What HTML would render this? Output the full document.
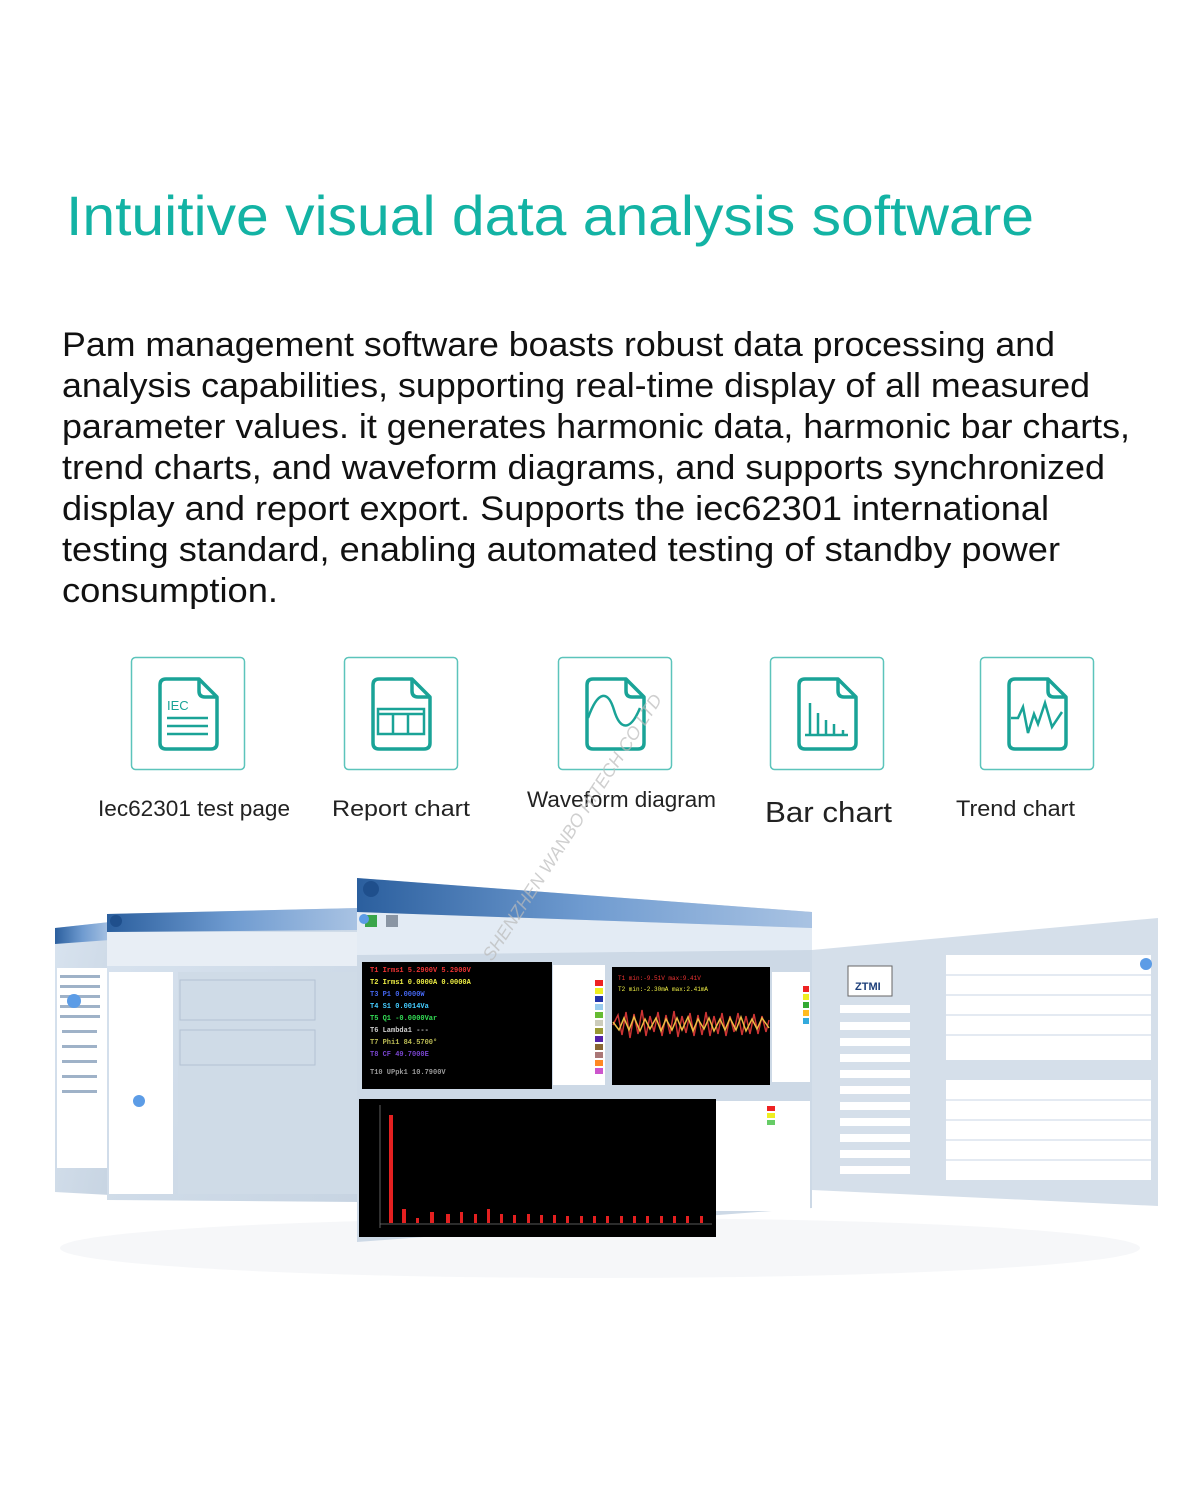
<!DOCTYPE html>
<html><head><meta charset="utf-8"><style>
html,body{margin:0;padding:0;background:#fff;}
svg{display:block;}
</style></head><body>
<svg width="1200" height="1492" viewBox="0 0 1200 1492" xmlns="http://www.w3.org/2000/svg" font-family="'Liberation Sans','Noto Sans CJK SC',sans-serif">
<defs>
<linearGradient id="pan" x1="0" y1="0" x2="1" y2="1"><stop offset="0" stop-color="#d8e3ef"/><stop offset="1" stop-color="#c7d4e2"/></linearGradient>
<linearGradient id="tb" x1="0" y1="0" x2="1" y2="0"><stop offset="0" stop-color="#2b5f9e"/><stop offset="0.5" stop-color="#6f9bd0"/><stop offset="1" stop-color="#a9c3e3"/></linearGradient>
<g id="doc">
<path d="M35 22 H68 L86 40 V86 Q86 92 80 92 H35 Q29 92 29 86 V28 Q29 22 35 22 Z" fill="none" stroke="#1aa397" stroke-width="3.5" stroke-linejoin="round"/>
<path d="M68 22 V34 Q68 40 74 40 H86" fill="none" stroke="#1aa397" stroke-width="3.5"/>
</g>
</defs>

<text x="66" y="235" font-size="56" fill="#13b3a4" textLength="968" lengthAdjust="spacingAndGlyphs">Intuitive visual data analysis software</text>

<g font-size="34" fill="#111">
<text x="62" y="356" textLength="993" lengthAdjust="spacingAndGlyphs">Pam management software boasts robust data processing and</text>
<text x="62" y="397" textLength="1028" lengthAdjust="spacingAndGlyphs">analysis capabilities, supporting real-time display of all measured</text>
<text x="62" y="438" textLength="1068" lengthAdjust="spacingAndGlyphs">parameter values. it generates harmonic data, harmonic bar charts,</text>
<text x="62" y="479" textLength="1043" lengthAdjust="spacingAndGlyphs">trend charts, and waveform diagrams, and supports synchronized</text>
<text x="62" y="520" textLength="987" lengthAdjust="spacingAndGlyphs">display and report export. Supports the iec62301 international</text>
<text x="62" y="561" textLength="998" lengthAdjust="spacingAndGlyphs">testing standard, enabling automated testing of standby power</text>
<text x="62" y="602" textLength="216" lengthAdjust="spacingAndGlyphs">consumption.</text>
</g>

<g fill="none" stroke="#5cc4bb" stroke-width="1.5">
<rect x="131.5" y="657.5" width="113" height="112" rx="4"/>
<rect x="344.5" y="657.5" width="113" height="112" rx="4"/>
<rect x="558.5" y="657.5" width="113" height="112" rx="4"/>
<rect x="770.5" y="657.5" width="113" height="112" rx="4"/>
<rect x="980.5" y="657.5" width="113" height="112" rx="4"/>
</g>
<use href="#doc" x="131" y="657"/>
<use href="#doc" x="344" y="657"/>
<use href="#doc" x="558" y="657"/>
<use href="#doc" x="770" y="657"/>
<use href="#doc" x="980" y="657"/>
<g stroke="#1aa397" stroke-width="2.5" fill="none">
<line x1="167" y1="718" x2="208" y2="718"/><line x1="167" y1="726" x2="208" y2="726"/><line x1="167" y1="734" x2="208" y2="734"/>
<rect x="378" y="709" width="46" height="25"/><line x1="378" y1="714" x2="424" y2="714"/><line x1="393" y1="714" x2="393" y2="734"/><line x1="408" y1="714" x2="408" y2="734"/>
<path d="M588 718 C598 690 608 690 614 710 C620 730 630 732 640 708"/>
<line x1="805" y1="735" x2="848" y2="735"/><line x1="810" y1="703" x2="810" y2="735"/><line x1="818" y1="713" x2="818" y2="735"/><line x1="826" y1="720" x2="826" y2="735"/><line x1="834" y1="724" x2="834" y2="735"/><line x1="843" y1="730" x2="843" y2="735"/>
<path d="M1011 718 H1018 L1023 707 L1028 733 L1034 714 L1038 724 L1045 703 L1052 727 L1062 712"/>
</g>
<text x="167" y="710" font-size="13" fill="#1aa397">IEC</text>
<g font-size="22" fill="#222">
<text x="98" y="816" textLength="192" lengthAdjust="spacingAndGlyphs">Iec62301 test page</text>
<text x="332" y="816" textLength="138" lengthAdjust="spacingAndGlyphs">Report chart</text>
<text x="527" y="807" textLength="189" lengthAdjust="spacingAndGlyphs">Waveform diagram</text>
<text x="956" y="816" textLength="119" lengthAdjust="spacingAndGlyphs">Trend chart</text>
</g>
<text x="765" y="822" font-size="29" fill="#222" textLength="127" lengthAdjust="spacingAndGlyphs">Bar chart</text>

<ellipse cx="600" cy="1248" rx="540" ry="30" fill="#f6f7f9"/>
<polygon points="55,928 110,922 110,1195 55,1192" fill="url(#pan)"/>
<polygon points="55,928 110,922 110,940 55,944" fill="url(#tb)"/>
<rect x="57" y="968" width="50" height="200" fill="#fff"/>
<g fill="#9fb2c8"><rect x="60" y="975" width="40" height="3"/><rect x="60" y="985" width="40" height="3"/><rect x="60" y="995" width="40" height="3"/><rect x="60" y="1005" width="40" height="3"/><rect x="60" y="1015" width="40" height="3"/><rect x="62" y="1030" width="35" height="3"/><rect x="62" y="1045" width="35" height="3"/><rect x="62" y="1060" width="35" height="3"/><rect x="62" y="1075" width="35" height="3"/><rect x="62" y="1090" width="35" height="3"/></g>
<circle cx="74" cy="1001" r="7" fill="#5c9ce6"/>
<polygon points="107,914 358,908 358,1202 107,1200" fill="url(#pan)"/>
<polygon points="107,914 358,908 358,930 107,932" fill="url(#tb)"/>
<rect x="107" y="932" width="251" height="34" fill="#e8eef5"/>
<rect x="109" y="972" width="64" height="222" fill="#fff"/>
<rect x="178" y="972" width="180" height="222" fill="#cfdbe7"/>
<rect x="180" y="980" width="135" height="40" fill="none" stroke="#b3c2d3"/>
<rect x="180" y="1030" width="135" height="35" fill="none" stroke="#b3c2d3"/>
<circle cx="139" cy="1101" r="6" fill="#5c9ce6"/>
<circle cx="116" cy="921" r="6" fill="#1f4f8c"/>
<polygon points="812,950 1158,918 1158,1206 812,1190" fill="#d5dfea"/>
<rect x="946" y="955" width="205" height="105" fill="#fff"/>
<rect x="946" y="1080" width="205" height="100" fill="#fff"/>
<g stroke="#c9d6e4"><line x1="946" y1="975" x2="1151" y2="975"/><line x1="946" y1="995" x2="1151" y2="995"/><line x1="946" y1="1015" x2="1151" y2="1015"/><line x1="946" y1="1035" x2="1151" y2="1035"/><line x1="946" y1="1100" x2="1151" y2="1100"/><line x1="946" y1="1120" x2="1151" y2="1120"/><line x1="946" y1="1140" x2="1151" y2="1140"/><line x1="946" y1="1160" x2="1151" y2="1160"/></g>
<rect x="848" y="966" width="44" height="30" fill="#fff" stroke="#666"/>
<text x="855" y="990" font-size="11" font-weight="bold" fill="#1d3f7a">ZTMI</text>
<g fill="#fff"><rect x="840" y="1005" width="70" height="8"/><rect x="840" y="1022" width="70" height="8"/><rect x="840" y="1038" width="70" height="8"/><rect x="840" y="1054" width="70" height="8"/><rect x="840" y="1070" width="70" height="8"/><rect x="840" y="1086" width="70" height="8"/><rect x="840" y="1102" width="70" height="8"/><rect x="840" y="1118" width="70" height="8"/><rect x="840" y="1134" width="70" height="8"/><rect x="840" y="1150" width="70" height="8"/><rect x="840" y="1166" width="70" height="8"/></g>
<circle cx="1146" cy="964" r="6" fill="#5c9ce6"/>
<polygon points="357,878 812,912 812,1208 357,1242" fill="#cdd9e6"/>
<polygon points="357,912 812,928 812,950 357,955" fill="#e3ebf4"/>
<polygon points="357,878 812,912 812,928 357,912" fill="url(#tb)"/>
<rect x="365" y="915" width="12" height="12" fill="#3aa54a"/><rect x="386" y="915" width="12" height="12" fill="#8a95a3"/>
<circle cx="371" cy="889" r="8" fill="#1f4f8c"/>
<circle cx="364" cy="919" r="5" fill="#5c9ce6"/>
<rect x="362" y="962" width="190" height="127" fill="#000"/>
<rect x="553" y="965" width="52" height="120" fill="#fff"/>
<g><rect x="595" y="980" width="8" height="6" fill="#e22"/><rect x="595" y="988" width="8" height="6" fill="#ee2"/><rect x="595" y="996" width="8" height="6" fill="#23a"/><rect x="595" y="1004" width="8" height="6" fill="#9ce"/><rect x="595" y="1012" width="8" height="6" fill="#6b3"/><rect x="595" y="1020" width="8" height="6" fill="#ccb"/><rect x="595" y="1028" width="8" height="6" fill="#993"/><rect x="595" y="1036" width="8" height="6" fill="#52a"/><rect x="595" y="1044" width="8" height="6" fill="#863"/><rect x="595" y="1052" width="8" height="6" fill="#a77"/><rect x="595" y="1060" width="8" height="6" fill="#f82"/><rect x="595" y="1068" width="8" height="6" fill="#c5c"/></g>
<g font-size="7" font-family="'Liberation Mono',monospace" font-weight="bold">
<text x="370" y="972" fill="#e33">T1 Irms1 5.2900V 5.2900V</text>
<text x="370" y="984" fill="#ee4">T2 Irms1 0.0000A 0.0000A</text>
<text x="370" y="996" fill="#46e">T3 P1 0.0000W</text>
<text x="370" y="1008" fill="#4cf">T4 S1 0.0014Va</text>
<text x="370" y="1020" fill="#3d5">T5 Q1 -0.0000Var</text>
<text x="370" y="1032" fill="#ccc">T6 Lambda1 ---</text>
<text x="370" y="1044" fill="#bb5">T7 Phi1 84.5700°</text>
<text x="370" y="1056" fill="#74c">T8 CF 49.7000E</text>
<text x="370" y="1074" fill="#999">T10 UPpk1 10.7900V</text>
</g>
<rect x="612" y="967" width="158" height="118" fill="#000"/>
<text x="618" y="980" font-size="6" fill="#e33" font-family="'Liberation Mono',monospace">T1 min:-9.51V max:9.41V</text>
<text x="618" y="991" font-size="6" fill="#ee4" font-family="'Liberation Mono',monospace">T2 min:-2.30mA max:2.41mA</text>
<path d="M613 1025 L618 1015 L622 1035 L626 1012 L630 1038 L634 1014 L638 1034 L642 1010 L646 1036 L650 1016 L654 1032 L658 1012 L662 1036 L666 1015 L670 1034 L674 1011 L678 1037 L682 1016 L686 1033 L690 1013 L694 1036 L698 1015 L702 1035 L706 1012 L710 1036 L714 1016 L718 1034 L722 1013 L726 1036 L730 1016 L734 1032 L738 1013 L742 1035 L746 1016 L750 1034 L754 1014 L758 1034 L762 1016 L766 1032 L769 1020" fill="none" stroke="#c33" stroke-width="1.5"/>
<path d="M613 1022 L619 1030 L624 1018 L629 1030 L634 1017 L640 1031 L645 1019 L650 1029 L656 1018 L661 1031 L666 1019 L672 1030 L677 1018 L682 1030 L688 1017 L693 1031 L698 1019 L704 1029 L709 1018 L714 1031 L720 1019 L725 1030 L730 1018 L736 1030 L741 1017 L746 1031 L752 1019 L757 1029 L762 1018 L769 1028" fill="none" stroke="#eb4" stroke-width="1.5"/>
<rect x="772" y="972" width="38" height="110" fill="#fff"/>
<rect x="803" y="986" width="6" height="6" fill="#e22"/><rect x="803" y="994" width="6" height="6" fill="#ee2"/><rect x="803" y="1002" width="6" height="6" fill="#3a3"/><rect x="803" y="1010" width="6" height="6" fill="#fb2"/><rect x="803" y="1018" width="6" height="6" fill="#3ad"/>
<rect x="359" y="1099" width="357" height="138" fill="#000"/>
<rect x="716" y="1101" width="94" height="110" fill="#fff"/>
<rect x="767" y="1106" width="8" height="5" fill="#e22"/><rect x="767" y="1113" width="8" height="5" fill="#ee2"/><rect x="767" y="1120" width="8" height="5" fill="#6c6"/>
<g fill="#e42020">
<rect x="389" y="1115" width="4" height="108"/>
<rect x="402" y="1209" width="4" height="14"/><rect x="416" y="1218" width="3" height="5"/><rect x="430" y="1212" width="4" height="11"/><rect x="446" y="1214" width="4" height="9"/><rect x="460" y="1212" width="3" height="11"/><rect x="474" y="1214" width="3" height="9"/><rect x="487" y="1209" width="3" height="14"/><rect x="500" y="1214" width="3" height="9"/><rect x="513" y="1215" width="3" height="8"/><rect x="527" y="1214" width="3" height="9"/><rect x="540" y="1215" width="3" height="8"/><rect x="553" y="1215" width="3" height="8"/><rect x="566" y="1216" width="3" height="7"/><rect x="580" y="1216" width="3" height="7"/><rect x="593" y="1216" width="3" height="7"/><rect x="606" y="1216" width="3" height="7"/><rect x="620" y="1216" width="3" height="7"/><rect x="633" y="1216" width="3" height="7"/><rect x="646" y="1216" width="3" height="7"/><rect x="660" y="1216" width="3" height="7"/><rect x="673" y="1216" width="3" height="7"/><rect x="686" y="1216" width="3" height="7"/><rect x="700" y="1216" width="3" height="7"/>
</g>
<line x1="380" y1="1105" x2="380" y2="1228" stroke="#777" stroke-width="0.8"/>
<line x1="380" y1="1224" x2="712" y2="1224" stroke="#777" stroke-width="0.8"/>

<text x="0" y="0" font-size="18" fill="#bbb" font-style="italic" opacity="0.7" transform="translate(492,962) rotate(-57)">SHENZHEN WANBO HITECH CO LTD</text>
</svg>
</body></html>
